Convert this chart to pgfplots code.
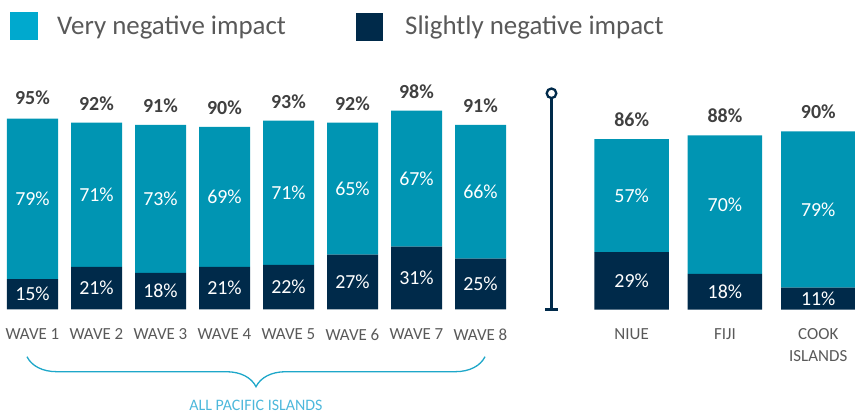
\documentclass[border=0pt]{standalone}
\usepackage{pgfplots}
\pgfplotsset{compat=1.18}
\usepackage{fontspec}
\setmainfont{Carlito}
\usetikzlibrary{decorations.pathreplacing}

\definecolor{teal1}{HTML}{0095B3}
\definecolor{tealleg}{HTML}{00A9CE}
\definecolor{navy}{HTML}{002A4A}
\definecolor{txtgray}{HTML}{595959}
\definecolor{totgray}{HTML}{404040}
\definecolor{bracecol}{HTML}{1EA7C9}
\definecolor{lbltxt}{HTML}{4DB8DB}

\pgfplotsset{
  stackbase/.style={
    ybar stacked, ymin=0, ymax=100, clip=false,
    axis line style={draw=none}, ytick=\empty, xtick=data, major tick length=0pt,
    xticklabel style={font=\fontsize{17}{22}\selectfont, text=txtgray, anchor=north,
      inner sep=0pt, yshift=-19bp, align=center},
    anchor=south west,
  },
  % stacked segments: pgfplots centres the labels in each segment
  seg/.style={draw=none, fill=#1, point meta=explicit symbolic, nodes near coords,
    every node near coord/.append style={text=white, inner sep=0pt,
      font=\fontsize{20}{24}\selectfont}},
  % overlay axis for the bold totals
  totbase/.style={hide axis, ymin=0, ymax=100, clip=false, anchor=south west},
  tot/.style={draw=none, mark=none, point meta=explicit symbolic, nodes near coords,
    every node near coord/.style={anchor=south, inner sep=0pt, yshift=12bp,
      text=totgray, font=\bfseries\fontsize{20}{24}\selectfont}},
}

\begin{document}
\begin{tikzpicture}
\useasboundingbox (0,0) rectangle (855bp,414bp);
\clip (0,0) rectangle (855bp,414bp);

% all pacific islands, waves 1-8
\begin{axis}[stackbase, at={(0.5bp,104.5bp)},
  x=64bp, y=2.03bp, xmin=-0.5, xmax=7.5, bar width=51bp,
  xticklabels={WAVE 1,WAVE 2,WAVE 3,WAVE 4,WAVE 5,WAVE 6,WAVE 7,WAVE 8}]
\addplot[seg=navy] coordinates {
  (0,15)[15\%] (1,21)[21\%] (2,18)[18\%] (3,21)[21\%]
  (4,22)[22\%] (5,27)[27\%] (6,31)[31\%] (7,25)[25\%]};
\addplot[seg=teal1] coordinates {
  (0,79)[79\%] (1,71)[71\%] (2,73)[73\%] (3,69)[69\%]
  (4,71)[71\%] (5,65)[65\%] (6,67)[67\%] (7,66)[66\%]};
\end{axis}
\begin{axis}[totbase, at={(0.5bp,104.5bp)}, x=64bp, y=2.03bp, xmin=-0.5, xmax=7.5]
\addplot[tot] coordinates {
  (0,95)[95\%] (1,92)[92\%] (2,91)[91\%] (3,90)[90\%]
  (4,93)[93\%] (5,92)[92\%] (6,98)[98\%] (7,91)[91\%]};
\end{axis}

% individual islands
\begin{axis}[stackbase, at={(585bp,104.5bp)},
  x=93.3bp, y=1.98bp, xmin=-0.5, xmax=2.5, bar width=74.5bp,
  xticklabels={NIUE,FIJI,{COOK\\ISLANDS}}]
\addplot[seg=navy] coordinates {(0,29)[29\%] (1,18)[18\%] (2,11)[11\%]};
\addplot[seg=teal1] coordinates {(0,57)[57\%] (1,70)[70\%] (2,79)[79\%]};
\end{axis}
\begin{axis}[totbase, at={(585bp,104.5bp)}, x=93.3bp, y=1.98bp, xmin=-0.5, xmax=2.5]
\addplot[tot] coordinates {(0,86)[86\%] (1,88)[88\%] (2,90)[90\%]};
\end{axis}

% separator
\draw[navy, line width=2.5bp] (551.5bp,104.5bp) -- (551.5bp,315.5bp);
\draw[navy, line width=2.5bp] (545bp,104.5bp) -- (558bp,104.5bp);
\draw[navy, line width=2.3bp, fill=white] (551.5bp,320.7bp) circle (4.8bp);

% brace
\draw[bracecol, line width=1.3bp, decorate, decoration={brace, mirror, amplitude=30bp}]
  (27bp,57.3bp) -- (485bp,57.3bp);
\node[anchor=base, inner sep=0pt, text=lbltxt, font=\fontsize{16}{19}\selectfont]
  at (256bp,3.5bp) {ALL PACIFIC ISLANDS};

% legend
\fill[tealleg] (10bp,374bp) rectangle (38bp,402bp);
\node[anchor=base west, inner sep=0pt, text=txtgray, font=\fontsize{27}{32}\selectfont]
  at (57bp,379bp) {Very negative impact};
\fill[navy] (356bp,373bp) rectangle (383bp,401bp);
\node[anchor=base west, inner sep=0pt, text=txtgray, font=\fontsize{27}{32}\selectfont]
  at (405bp,379bp) {Slightly negative impact};
\end{tikzpicture}
\end{document}
